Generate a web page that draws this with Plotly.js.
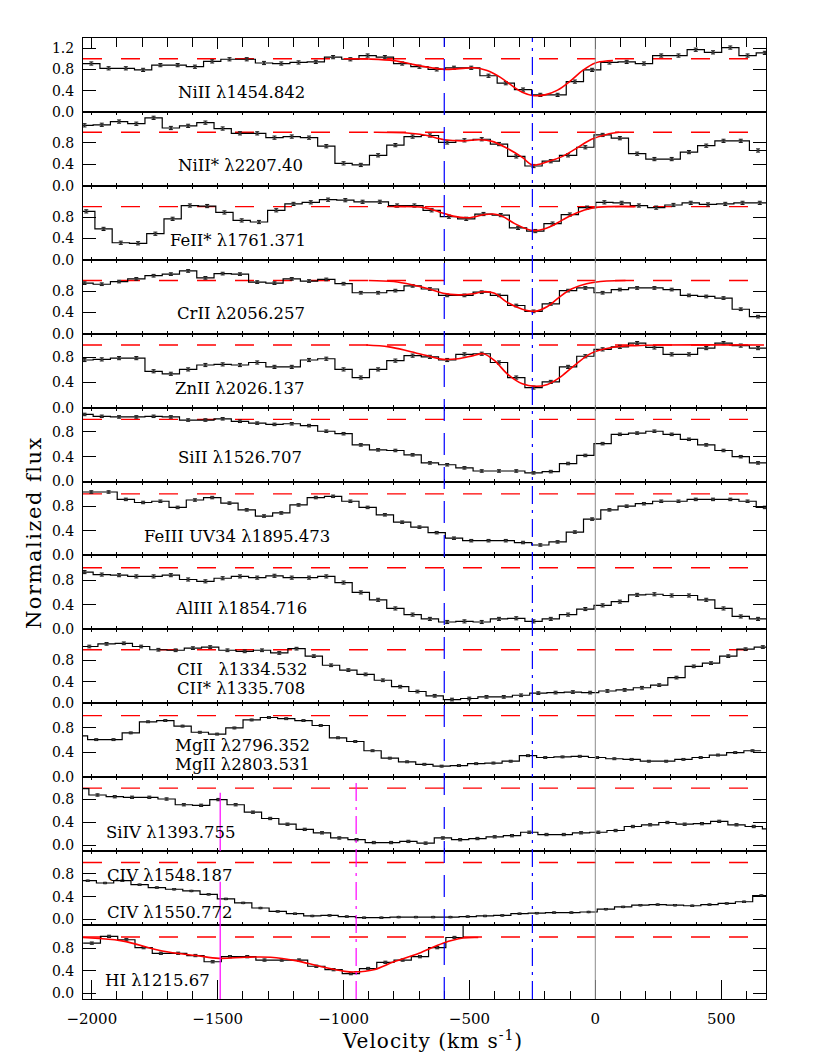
<!DOCTYPE html>
<html lang="en">
<head>
<meta charset="UTF-8" />
<title>Velocity profiles</title>
<script src="https://cdn.plot.ly/plotly-3.0.1.min.js"></script>
<style>
  body { margin: 0; background: #fff; }
  #plot { width: 830px; height: 1054px; }
</style>
</head>
<body>
<div id="plot"></div>
<script>
// bin width in km/s (all spectra rebinned on same velocity grid)
const binW = 68.6;

const lineNames = [
  "NiII λ1454.842", "NiII* λ2207.40", "FeII* λ1761.371", "CrII λ2056.257",
  "ZnII λ2026.137", "SiII λ1526.707", "FeIII UV34 λ1895.473", "AlIII λ1854.716",
  "CII\u00a0\u00a0\u00a0λ1334.532", "MgII λ2796.352", "SiIV λ1393.755", "CIV λ1548.187", "HI λ1215.67"
];
const secondNames = [null, null, null, null, null, null, null, null,
  "CII* λ1335.708", "MgII λ2803.531", null, "CIV λ1550.772", null];

// velocity of the first bin centre of each panel
const startV = [-2002, -2029, -2022, -2029, -2029, -2029, -2002, -2029, -2010, -2051, -2046, -2016, -2000];
const errs = [0.03, 0.03, 0.03, 0.025, 0.025, 0.02, 0.02, 0.025, 0.025, 0.015, 0.02, 0.012, 0.02];
const yRanges = [[0, 1.39], [0, 1.38], [0, 1.39], [0, 1.39], [0, 1.18], [0, 1.19], [0, 1.2],
  [0, 1.2], [0, 1.38], [0, 1.2], [-0.1, 1.19], [-0.1, 1.2], [-0.1, 1.21]];

const fluxNi1454 = [0.91,0.82,0.82,0.79,0.88,0.88,0.85,0.95,0.99,0.99,0.92,0.91,0.93,0.94,1.03,0.99,1.06,1.03,0.91,0.85,
  0.80,0.83,0.83,0.68,0.54,0.42,0.32,0.32,0.57,0.79,0.93,0.94,0.91,1.06,1.06,1.17,1.12,1.21,1.06,1.11];
const fluxNi2207 = [1.13,1.14,1.20,1.16,1.27,1.08,1.12,1.18,1.07,0.98,0.98,0.90,0.92,0.90,0.74,0.42,0.39,0.57,0.76,0.92,
  0.94,0.81,0.85,0.87,0.78,0.55,0.37,0.46,0.57,0.72,0.95,0.89,0.60,0.50,0.50,0.63,0.75,0.84,0.84,0.66,0.58];
const fluxFe1761 = [0.91,0.58,0.32,0.31,0.49,0.77,1.02,1.01,0.89,0.74,0.71,0.93,1.05,1.08,1.13,1.12,1.09,1.09,1.02,1.02,
  0.93,0.81,0.77,0.86,0.84,0.60,0.54,0.68,0.85,0.98,1.08,1.07,1.02,0.98,1.03,1.07,1.04,1.05,1.07,1.07];
const fluxCr2056 = [0.95,0.93,0.98,1.03,1.09,1.12,1.18,1.05,1.13,1.12,0.97,0.95,1.03,0.99,1.02,0.94,0.77,0.77,0.81,0.90,
  0.84,0.72,0.72,0.78,0.72,0.53,0.42,0.56,0.81,0.86,0.77,0.83,0.86,0.86,0.83,0.72,0.70,0.67,0.46,0.32,0.39];
const fluxZn2026 = [0.76,0.77,0.79,0.79,0.58,0.54,0.61,0.68,0.69,0.68,0.72,0.65,0.65,0.76,0.78,0.61,0.48,0.61,0.75,0.83,
  0.81,0.76,0.85,0.86,0.72,0.48,0.32,0.41,0.65,0.82,0.93,0.97,1.03,0.96,0.85,0.85,0.95,1.03,0.99,0.95];
const fluxSi1526 = [1.08,1.05,1.04,1.04,1.05,1.04,0.99,0.99,1.01,0.97,0.94,0.92,0.93,0.90,0.81,0.77,0.59,0.51,0.50,0.43,
  0.30,0.27,0.22,0.17,0.17,0.17,0.14,0.16,0.29,0.42,0.61,0.76,0.78,0.81,0.76,0.68,0.59,0.50,0.40,0.30];
const fluxFe1895 = [1.03,1.03,0.91,0.86,0.88,0.78,0.90,0.94,0.85,0.74,0.64,0.69,0.82,0.94,0.96,0.88,0.78,0.66,0.54,0.46,
  0.37,0.28,0.24,0.24,0.24,0.21,0.17,0.22,0.38,0.59,0.74,0.80,0.84,0.88,0.88,0.91,0.91,0.91,0.88,0.78];
const fluxAl1854 = [0.93,0.89,0.88,0.86,0.86,0.88,0.81,0.78,0.83,0.86,0.84,0.87,0.84,0.84,0.86,0.76,0.60,0.48,0.34,0.24,
  0.17,0.12,0.13,0.12,0.17,0.18,0.13,0.17,0.24,0.33,0.39,0.45,0.56,0.57,0.55,0.55,0.48,0.34,0.21,0.17];
const fluxC1334 = [1.06,1.11,1.12,1.06,1.00,0.99,1.03,1.05,0.99,0.97,0.99,0.94,1.02,0.88,0.71,0.62,0.54,0.43,0.31,0.22,
  0.14,0.07,0.09,0.12,0.12,0.15,0.19,0.20,0.21,0.20,0.23,0.25,0.29,0.34,0.48,0.69,0.75,0.88,1.01,1.05];
const fluxMg2796 = [0.67,0.61,0.61,0.72,0.90,0.92,0.83,0.73,0.70,0.80,0.93,0.97,0.95,0.92,0.84,0.64,0.58,0.43,0.31,0.25,
  0.21,0.18,0.19,0.22,0.23,0.26,0.35,0.32,0.33,0.34,0.32,0.30,0.29,0.26,0.26,0.29,0.32,0.36,0.40,0.43];
const fluxSi1393 = [0.99,0.88,0.85,0.84,0.84,0.81,0.71,0.70,0.80,0.71,0.58,0.47,0.37,0.28,0.22,0.13,0.10,0.05,0.05,0.07,
  0.04,0.13,0.10,0.12,0.15,0.17,0.23,0.19,0.19,0.22,0.23,0.26,0.33,0.36,0.40,0.37,0.38,0.42,0.36,0.33,0.29];
const fluxC1548 = [0.68,0.64,0.68,0.61,0.56,0.53,0.50,0.44,0.36,0.29,0.20,0.14,0.10,0.06,0.07,0.05,0.03,0.03,0.04,0.04,
  0.04,0.04,0.05,0.06,0.07,0.10,0.11,0.12,0.12,0.13,0.18,0.22,0.25,0.26,0.25,0.24,0.26,0.28,0.31,0.42];
// last HI bin is off the top of the panel
const fluxH1215 = [0.89,1.01,0.95,0.81,0.71,0.71,0.67,0.56,0.65,0.65,0.59,0.59,0.59,0.48,0.42,0.35,0.44,0.55,0.59,0.65,
  0.81,0.99,1.4];

// fitted profiles (red)
const modelNi1454V = [-1000,-900,-800,-720,-650,-600,-550,-480,-430,-380,-330,-290,-250,-200,-150,-100,-50,0,50,70];
const modelNi1454F = [1.0,0.995,0.965,0.89,0.83,0.80,0.81,0.83,0.78,0.66,0.49,0.37,0.31,0.32,0.41,0.58,0.78,0.92,0.96,0.965];
const modelNi2207V = [-880,-760,-680,-600,-525,-460,-410,-350,-290,-250,-190,-130,-75,-15,45,95];
const modelNi2207F = [1.0,0.99,0.95,0.86,0.84,0.86,0.83,0.70,0.53,0.39,0.45,0.55,0.70,0.87,0.96,1.0];
const modelFe1761V = [-800,-680,-620,-565,-505,-440,-405,-370,-320,-260,-230,-180,-130,-75,-15,60,160];
const modelFe1761F = [1.0,0.98,0.90,0.82,0.79,0.85,0.86,0.82,0.68,0.56,0.55,0.62,0.75,0.88,0.97,1.0,1.0];
const modelCr2056V = [-900,-800,-720,-660,-605,-545,-485,-445,-400,-350,-290,-240,-190,-145,-95,-35,45,120];
const modelCr2056F = [1.0,0.98,0.91,0.84,0.76,0.73,0.75,0.79,0.76,0.59,0.46,0.42,0.51,0.68,0.84,0.94,0.99,1.0];
const modelZn2026V = [-910,-820,-740,-660,-605,-545,-485,-445,-400,-350,-290,-240,-190,-135,-75,-15,65,160,260,670];
const modelZn2026F = [1.0,0.97,0.90,0.82,0.77,0.78,0.83,0.86,0.75,0.54,0.38,0.34,0.37,0.50,0.70,0.87,0.96,0.99,1.0,1.0];
const modelH1215V = [-2035,-1880,-1720,-1585,-1495,-1390,-1290,-1190,-1095,-995,-955,-880,-800,-700,-605,-525,-465];
const modelH1215F = [0.99,0.93,0.75,0.67,0.62,0.64,0.64,0.58,0.48,0.39,0.38,0.42,0.56,0.71,0.89,0.98,0.99];

// marker velocities
const compV = [-600, -250];
const magentaV = [-950, -1490];

const fluxes = [fluxNi1454, fluxNi2207, fluxFe1761, fluxCr2056, fluxZn2026, fluxSi1526, fluxFe1895,
  fluxAl1854, fluxC1334, fluxMg2796, fluxSi1393, fluxC1548, fluxH1215];
const models = {0: [modelNi1454V, modelNi1454F], 1: [modelNi2207V, modelNi2207F], 2: [modelFe1761V, modelFe1761F],
  3: [modelCr2056V, modelCr2056F], 4: [modelZn2026V, modelZn2026F], 12: [modelH1215V, modelH1215F]};

// label positions in pixels (left, centre y)
const labelPos = [[176, 92], [176, 165], [168, 240], [175, 313], [173, 388], [176, 458], [142, 536],
  [173, 608], [175, 669], [173, 745], [104, 832], [105, 875], [103, 980]];
const label2Y = {8: 688, 9: 764, 11: 912};

const N = 13;
const PL = 83, PR = 766, PT = 38, PB = 999;
const fx = px => (px - PL) / (PR - PL);
const fy = py => (PB - py) / (PB - PT);
const serif = "DejaVu Serif";
const xRange = [-2035, 678];

const traces = [];
const layout = {
  width: 830, height: 1054,
  margin: {l: PL, r: 830 - PR, t: PT, b: 1054 - PB},
  paper_bgcolor: "#fff", plot_bgcolor: "#fff",
  showlegend: false,
  font: {family: serif, color: "#000", size: 14},
  shapes: [], annotations: []
};

for (let i = 0; i < N; i++) {
  const xa = i === 0 ? "x" : "x" + (i + 1);
  const ya = i === 0 ? "y" : "y" + (i + 1);
  const flux = fluxes[i];
  const centers = flux.map((f, k) => startV[i] + k * binW);

  // step histogram
  const ex = centers.map(c => c - binW / 2);
  ex.push(centers[centers.length - 1] + binW / 2);
  const ey = flux.slice();
  ey.push(flux[flux.length - 1]);
  traces.push({x: ex, y: ey, xaxis: xa, yaxis: ya, mode: "lines",
    line: {shape: "hv", color: "#000", width: 1.2}, hoverinfo: "skip"});

  // error bars
  traces.push({x: centers, y: flux, xaxis: xa, yaxis: ya, mode: "markers",
    marker: {size: 2.5, color: "#333"},
    error_y: {type: "constant", value: errs[i], thickness: 1, width: 2, color: "#111"}});

  if (models[i]) {
    traces.push({x: models[i][0], y: models[i][1], xaxis: xa, yaxis: ya, mode: "lines",
      line: {shape: "spline", color: "#ff0000", width: 1.6}});
  }

  const dom = [1 - (i + 1) / N, 1 - i / N];
  layout[i === 0 ? "yaxis" : "yaxis" + (i + 1)] = {
    domain: dom, range: yRanges[i], anchor: xa,
    tickvals: i === 0 ? [0, 0.4, 0.8, 1.2] : [0, 0.4, 0.8],
    ticktext: (i === 0 ? [0, 0.4, 0.8, 1.2] : [0, 0.4, 0.8]).map(v => v.toFixed(1)),
    ticks: "inside", ticklen: 13, tickwidth: 1, tickcolor: "#000",
    mirror: "ticks", showline: true, linecolor: "#000", linewidth: 1,
    showgrid: false, zeroline: false, ticklabelstandoff: 5,
    tickfont: {family: serif, size: 14, color: "#000"}
  };

  const xax = {
    range: xRange, anchor: ya, showgrid: false, zeroline: false,
    showline: true, linecolor: "#000", linewidth: 1,
    ticks: "inside", tickcolor: "#000", tickwidth: 1
  };
  if (i === 0) {
    Object.assign(xax, {side: "top", mirror: true, tick0: 0, dtick: 500, ticklen: 11,
      minor: {dtick: 100, ticklen: 9, ticks: "inside", tickcolor: "#000"}, showticklabels: false});
  } else if (i === N - 1) {
    Object.assign(xax, {side: "bottom", mirror: true, tick0: 0, dtick: 500, ticklen: 19,
      minor: {dtick: 100, ticklen: 8, ticks: "inside", tickcolor: "#000"}, showticklabels: true,
      ticklabelstandoff: 6, tickfont: {family: serif, size: 15, color: "#000"}});
  } else {
    Object.assign(xax, {mirror: "ticks", tick0: 0, dtick: 100, ticklen: 3, showticklabels: false});
  }
  layout[i === 0 ? "xaxis" : "xaxis" + (i + 1)] = xax;

  // continuum level
  layout.shapes.push({type: "line", xref: "paper", yref: ya, x0: 0, x1: 1, y0: 1, y1: 1,
    line: {color: "#ff0000", width: 1.4, dash: "19px,19px"}, layer: "below"});

  // line labels
  layout.annotations.push({xref: "paper", yref: "paper", x: fx(labelPos[i][0]), y: fy(labelPos[i][1]),
    xanchor: "left", yanchor: "middle", showarrow: false, text: lineNames[i],
    font: {family: serif, size: 16.5, color: "#000"}});
  if (secondNames[i]) {
    layout.annotations.push({xref: "paper", yref: "paper", x: fx(labelPos[i][0]), y: fy(label2Y[i]),
      xanchor: "left", yanchor: "middle", showarrow: false, text: secondNames[i],
      font: {family: serif, size: 16.5, color: "#000"}});
  }
}

// component velocities through all panels
layout.shapes.push({type: "line", xref: "x", yref: "paper", x0: compV[0], x1: compV[0], y0: 0, y1: 1,
  line: {color: "#0000ff", width: 1.2, dash: "22px,12px"}});
layout.shapes.push({type: "line", xref: "x", yref: "paper", x0: compV[1], x1: compV[1], y0: 0, y1: 1,
  line: {color: "#0000ff", width: 1.2, dash: "18px,6px,3px,6px"}});
layout.shapes.push({type: "line", xref: "x", yref: "paper", x0: 0, x1: 0, y0: 0, y1: 1,
  line: {color: "#8c8c8c", width: 1}});
// high-ionisation components (bottom panels)
layout.shapes.push({type: "line", xref: "x", yref: "paper", x0: magentaV[0], x1: magentaV[0], y0: 0, y1: 3 / N,
  line: {color: "#ff00ff", width: 1.2, dash: "18px,6px,3px,6px"}});
layout.shapes.push({type: "line", xref: "x", yref: "paper", x0: magentaV[1], x1: magentaV[1], y0: 0, y1: 1 / N,
  line: {color: "#ff00ff", width: 1.2}});
layout.shapes.push({type: "line", xref: "x", yref: "y12", x0: magentaV[1], x1: magentaV[1], y0: -0.1, y1: 0.66,
  line: {color: "#ff00ff", width: 1.2}});
layout.shapes.push({type: "line", xref: "x", yref: "y11", x0: magentaV[1], x1: magentaV[1], y0: -0.1, y1: 0.92,
  line: {color: "#ff00ff", width: 1.2}});

// axis titles
layout.annotations.push({xref: "paper", yref: "paper", x: fx(34), y: fy(533), xanchor: "center", yanchor: "middle",
  textangle: -90, showarrow: false,
  text: '<span style="letter-spacing:1.5px">Normalized flux</span>',
  font: {family: serif, size: 21, color: "#000"}});
layout.annotations.push({xref: "paper", yref: "paper", x: fx(432), y: fy(1040), xanchor: "center", yanchor: "middle",
  showarrow: false,
  text: '<span style="letter-spacing:1px">Velocity (km s<sup>-1</sup>)</span>',
  font: {family: serif, size: 20, color: "#000"}});

Plotly.newPlot("plot", traces, layout, {staticPlot: true, displayModeBar: false});
</script>
</body>
</html>
